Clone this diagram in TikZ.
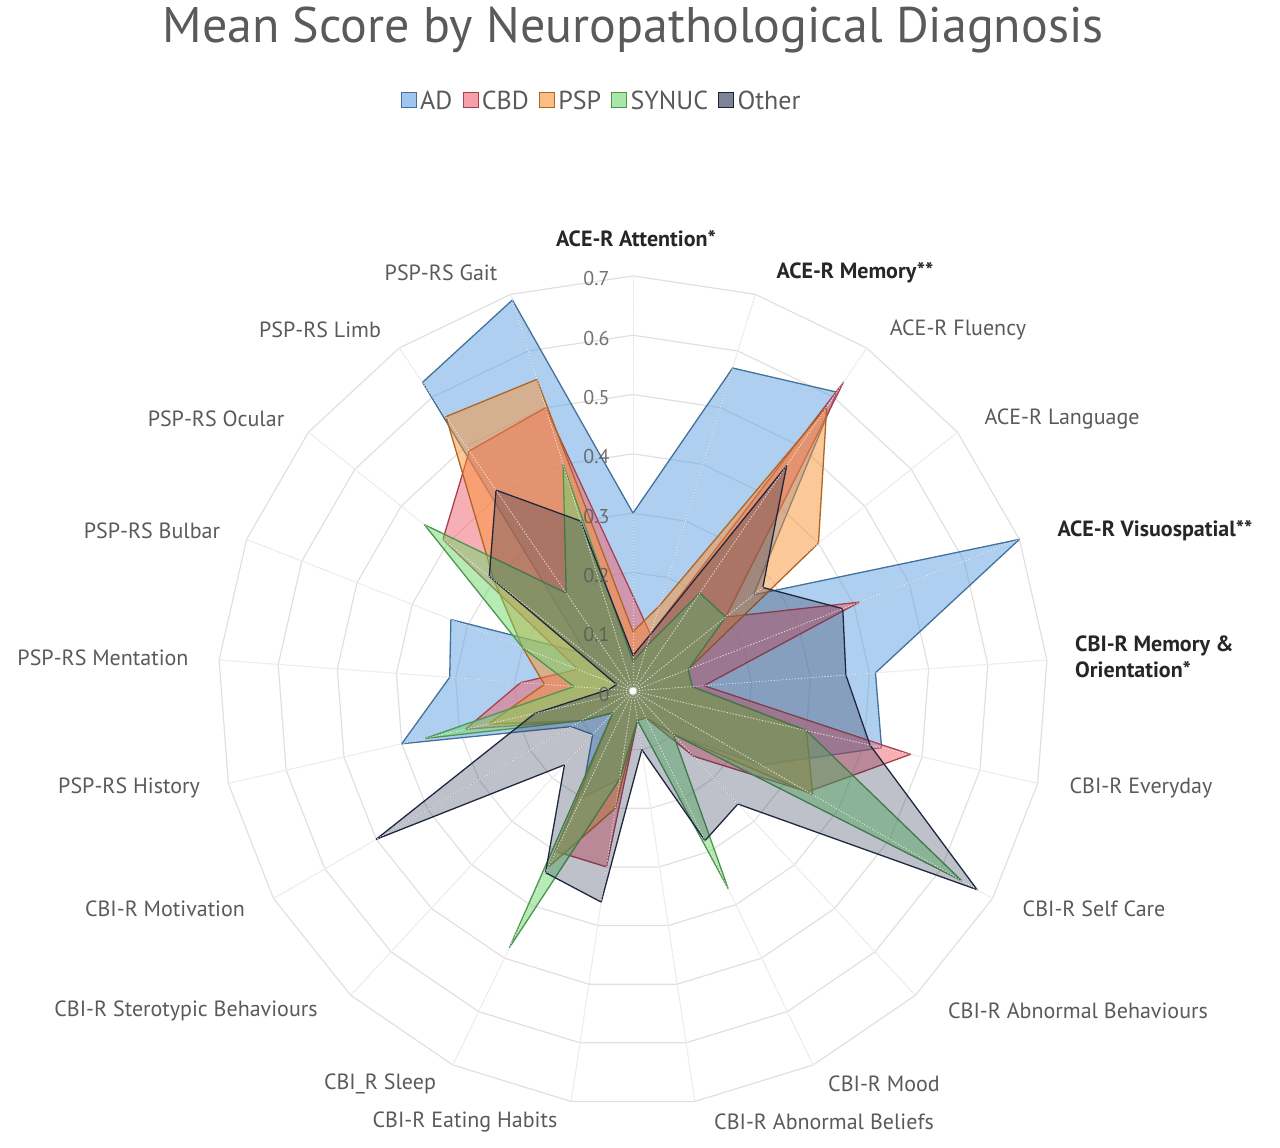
\documentclass[tikz,border=0pt]{standalone}
\usepackage{fontspec}
\setmainfont{PT Sans}
\usetikzlibrary{positioning}

\definecolor{adblue}{RGB}{95,160,225}
\definecolor{cbdred}{RGB}{240,95,110}
\definecolor{pspor}{RGB}{250,145,50}
\definecolor{synuc}{RGB}{110,215,110}
\definecolor{othr}{RGB}{40,50,80}
\definecolor{txt}{RGB}{90,90,90}

\tikzset{
  ring/.style={draw=black!12, line width=1.2pt},
  spoke/.style={draw=black!10, line width=1pt},
  dotspoke/.style={draw=white, line width=0.8pt, dash pattern=on 1.5pt off 1.5pt, opacity=0.7},
  series/.style={fill=#1, fill opacity=0.5, draw=#1!70!black, line width=1.3pt, line join=round},
  axlab/.style={font=\fontsize{22}{26}\selectfont, text=txt},
  axbold/.style={font=\fontsize{22}{26}\selectfont\bfseries, text=black!85},
  tick/.style={font=\fontsize{20}{24}\selectfont, text=txt, opacity=0.85},
  legbox/.style={draw=#1!70!black, fill=#1, fill opacity=0.6, minimum size=15pt, inner sep=0pt, line width=1pt},
  legtxt/.style={font=\fontsize{26}{30}\selectfont, text=txt, inner sep=2pt}
}

% one polygon of 21 values, first value on the top axis
\newcommand{\radarseries}[3]{%
  \draw[series=#1] (-90:{#2*593}) \foreach \v [count=\i] in {#3} { -- ({-90+\i*360/21}:{\v*593}) } -- cycle;
}

\begin{document}
\begin{tikzpicture}[x=1pt,y=-1pt]
  \useasboundingbox (0,0) rectangle (1280,1148);
  \node[font=\fontsize{50}{56}\selectfont, text=txt] (title) at (633,30) {Mean Score by Neuropathological Diagnosis};

  % legend
  \node[legbox=adblue] (lgad) at (409,100) {};
  \node[legtxt, right=1pt of lgad] (tad) {AD};
  \node[legbox=cbdred, right=8pt of tad] (lgcbd) {};
  \node[legtxt, right=1pt of lgcbd] (tcbd) {CBD};
  \node[legbox=pspor, right=8pt of tcbd] (lgpsp) {};
  \node[legtxt, right=1pt of lgpsp] (tpsp) {PSP};
  \node[legbox=synuc, right=8pt of tpsp] (lgsyn) {};
  \node[legtxt, right=1pt of lgsyn] (tsyn) {SYNUC};
  \node[legbox=othr, right=8pt of tsyn] (lgoth) {};
  \node[legtxt, right=1pt of lgoth] (toth) {Other};

  \begin{scope}[shift={(633,691)}]
    % grid
    \foreach \r in {1,...,7}
      \draw[ring] (-90:{\r*59.3}) \foreach \i in {1,...,20} { -- ({-90+\i*360/21}:{\r*59.3}) } -- cycle;
    \foreach \i in {0,...,20}
      \draw[spoke] (0,0) -- ({-90+\i*360/21}:415);

    % data
    \radarseries{adblue}{0.30}{0.57,0.61,0.26,0.70,0.41,0.43,0.25,0.10,0.05,0.05,0.15,0.20,0.10,0.12,0.40,0.31,0.33,0.10,0.63,0.69}
    \radarseries{cbdred}{0.16}{0.10,0.63,0.20,0.41,0.12,0.48,0.34,0.15,0.05,0.05,0.30,0.30,0.05,0.10,0.29,0.19,0.10,0.41,0.49,0.50}
    \radarseries{pspor}{0.10}{0.15,0.58,0.40,0.10,0.10,0.30,0.35,0.10,0.05,0.05,0.20,0.33,0.05,0.10,0.25,0.15,0.20,0.30,0.56,0.55}
    \radarseries{synuc}{0.05}{0.08,0.20,0.20,0.10,0.10,0.30,0.64,0.10,0.37,0.05,0.15,0.48,0.05,0.10,0.36,0.10,0.20,0.45,0.20,0.40}
    \draw[series=othr, fill opacity=0.3, draw=othr!80!black] (-90:{0.06*593}) \foreach \v [count=\i] in {0.10,0.46,0.28,0.38,0.36,0.41,0.67,0.26,0.28,0.10,0.36,0.34,0.17,0.50,0.17,0.04,0.03,0.31,0.41,0.30} { -- ({-90+\i*360/21}:{\v*593}) } -- cycle;

    \foreach \i in {0,...,20}
      \draw[dotspoke] (0,0) -- ({-90+\i*360/21}:415);
    \draw[black!40, fill=white] (0,0) circle (4pt);

    % ticks on the top axis
    \foreach \t [count=\k from 0] in {0,0.1,0.2,0.3,0.4,0.5,0.6,0.7}
      \node[tick, anchor=east] at (-20,{-\k*59.3+3}) {\t};
  \end{scope}

  % axis labels
  \node[axbold] (att) at (636,239) {ACE-R Attention*};
  \node[axbold] (mem) at (855,273) {ACE-R Memory**};
  \node[axlab] (flu) at (958,330) {ACE-R Fluency};
  \node[axlab] (lang) at (1062,419) {ACE-R Language};
  \node[axbold] (vis) at (1155,531) {ACE-R Visuospatial**};
  \node[axbold, anchor=west, align=left, inner sep=0pt] (memor) at (1075,657) {CBI-R Memory \&\\Orientation*};
  \node[axlab] (every) at (1141,788) {CBI-R Everyday};
  \node[axlab] (self) at (1094,909) {CBI-R Self Care};
  \node[axlab] (abb) at (1078,1011) {CBI-R Abnormal Behaviours};
  \node[axlab] (mood) at (884,1084) {CBI-R Mood};
  \node[axlab] (abbel) at (824,1122) {CBI-R Abnormal Beliefs};
  \node[axlab] (eat) at (465,1122) {CBI-R Eating Habits};
  \node[axlab] (sleep) at (380,1084) {CBI\_R Sleep};
  \node[axlab] (stero) at (186,1011) {CBI-R Sterotypic Behaviours};
  \node[axlab] (motiv) at (165,909) {CBI-R Motivation};
  \node[axlab] (hist) at (129,788) {PSP-RS History};
  \node[axlab] (ment) at (103,658) {PSP-RS Mentation};
  \node[axlab] (bulb) at (152,531) {PSP-RS Bulbar};
  \node[axlab] (ocul) at (216,419) {PSP-RS Ocular};
  \node[axlab] (limb) at (320,330) {PSP-RS Limb};
  \node[axlab] (gait) at (441,273) {PSP-RS Gait};
\end{tikzpicture}
\end{document}
